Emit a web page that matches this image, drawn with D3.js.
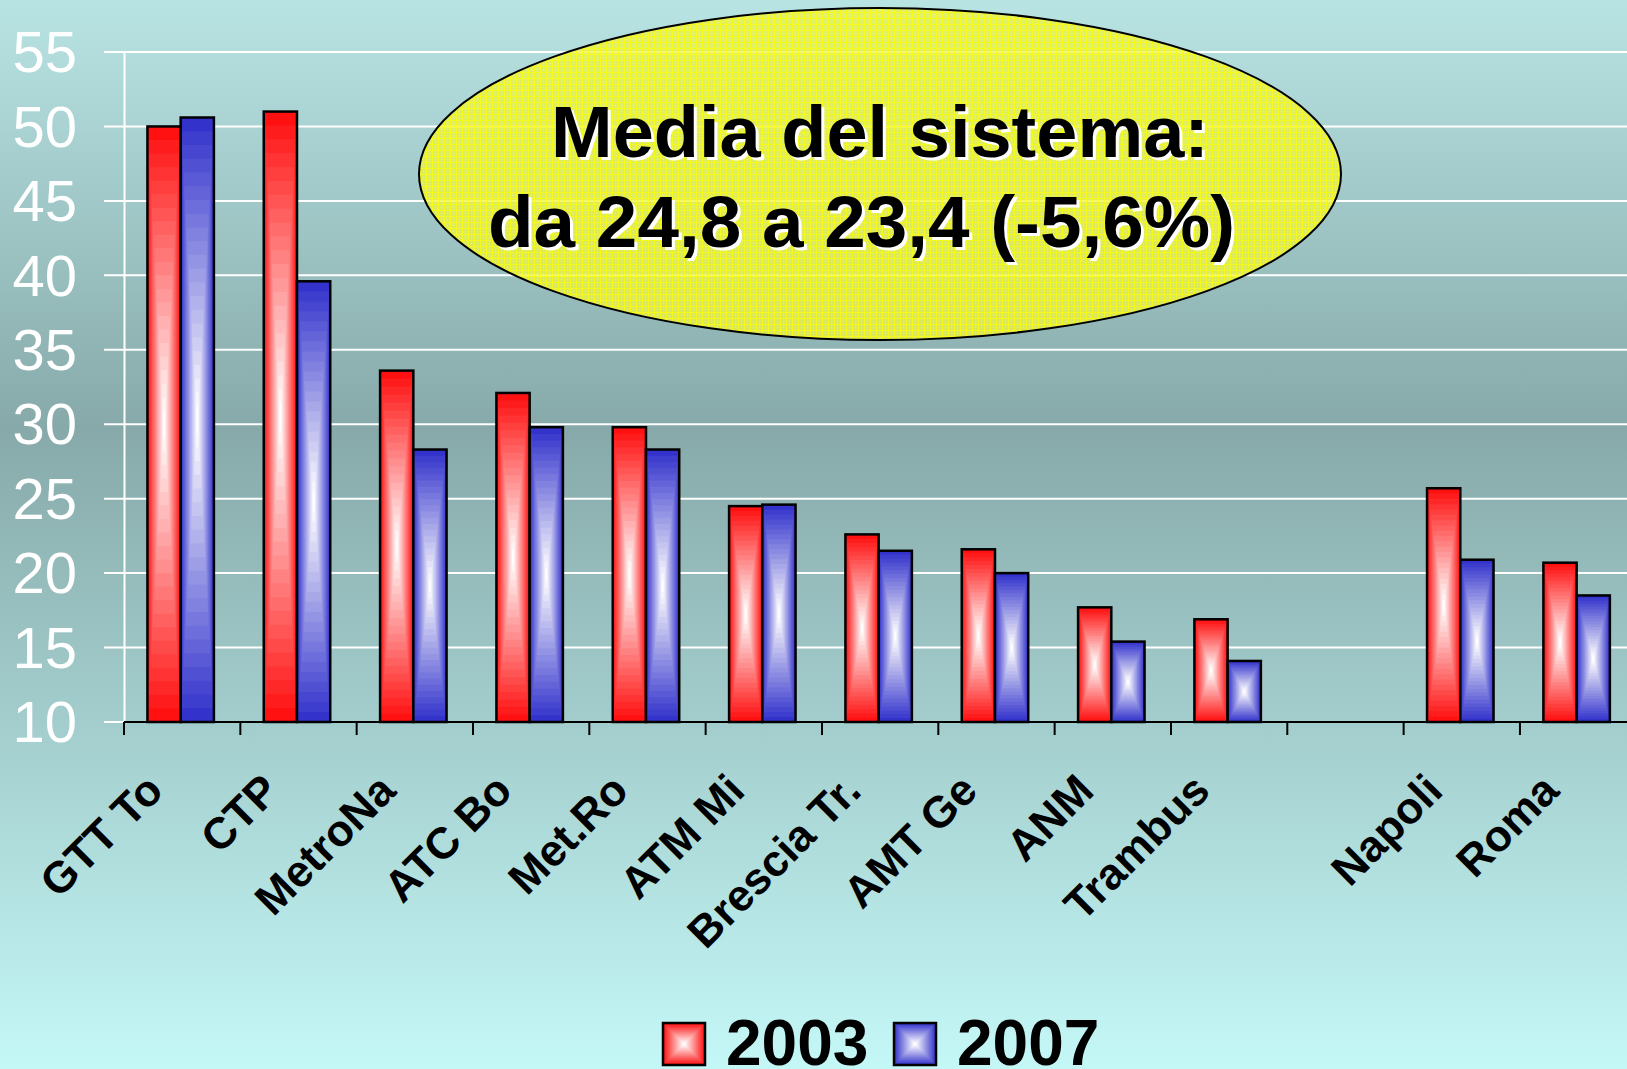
<!DOCTYPE html>
<html>
<head>
<meta charset="utf-8">
<script src="https://cdn.jsdelivr.net/npm/d3@7"></script>
<style>
  html, body { margin: 0; padding: 0; overflow: hidden; }
  svg { display: block; font-family: "Liberation Sans", Arial, sans-serif; }
</style>
</head>
<body>
<div id="chart"></div>
<script>
// values (blank slot between Trambus and Napoli)
const categories = ["GTT To", "CTP", "MetroNa", "ATC Bo", "Met.Ro", "ATM Mi", "Brescia Tr.",
                    "AMT Ge", "ANM", "Trambus", "", "Napoli", "Roma"];
const values2003 = [50.0, 51.0, 33.6, 32.1, 29.8, 24.5, 22.6, 21.6, 17.7, 16.9, null, 25.7, 20.7];
const values2007 = [50.6, 39.6, 28.3, 29.8, 28.3, 24.6, 21.5, 20.0, 15.4, 14.1, null, 20.9, 18.5];
const years = ["2003", "2007"];
const yTicks = [10, 15, 20, 25, 30, 35, 40, 45, 50, 55];
const noteLines = ["Media del sistema:", "da 24,8 a 23,4 (-5,6%)"];

const chartW = 1627, chartH = 1069;
const plotLeft = 124, plotBottom = 722, plotTop = 52;
const catStep = 116.33;
const colors = { "2003": "#ff1111", "2007": "#3333cc" };

const svg = d3.select("#chart").append("svg")
    .attr("width", chartW)
    .attr("height", chartH);

const defs = svg.append("defs");
let bg = defs.append("linearGradient").attr("id", "bg")
    .attr("x1", 0).attr("y1", 0).attr("x2", 0).attr("y2", 1);
bg.append("stop").attr("offset", "0%").attr("stop-color", "#b9e4e4");
bg.append("stop").attr("offset", "40%").attr("stop-color", "#87a9a9");
bg.append("stop").attr("offset", "100%").attr("stop-color", "#c4f8f7");

// fine yellow mesh inside the ellipse
let pat = defs.append("pattern").attr("id", "mesh")
    .attr("patternUnits", "userSpaceOnUse").attr("width", 6).attr("height", 6);
pat.append("rect").attr("width", 6).attr("height", 6).attr("fill", "rgba(238,245,70,0.78)");
pat.append("path").attr("d", "M0,0.5H6M0.5,0V6")
    .attr("stroke", "#ffff00").attr("stroke-width", 1).attr("opacity", 0.7);
pat.append("rect").attr("x", 3).attr("y", 3).attr("width", 1).attr("height", 1)
    .attr("fill", "#ffff40").attr("opacity", 0.5);

svg.append("rect").attr("width", chartW).attr("height", chartH).attr("fill", "url(#bg)");

let x = d3.scaleBand()
    .domain(categories)
    .range([plotLeft, plotLeft + categories.length * catStep])
    .padding(0);

let xInner = d3.scaleBand()
    .domain(years)
    .range([0, x.bandwidth()])
    .paddingInner(0)
    .paddingOuter(0.75)
    .align(0.47);

let y = d3.scaleLinear()
    .domain([10, 55])
    .range([plotBottom, plotTop]);

// gridlines
svg.append("g").selectAll("line")
    .data(yTicks)
    .enter()
    .append("line")
    .attr("x1", 104).attr("x2", chartW)
    .attr("y1", d => y(d)).attr("y2", d => y(d))
    .attr("stroke", "#ffffff").attr("stroke-width", 2);

// y axis
let yAxis = svg.append("g")
    .attr("transform", "translate(" + plotLeft + ",0)")
    .call(d3.axisLeft(y).tickValues(yTicks).tickSize(0).tickPadding(47));
yAxis.select(".domain").attr("stroke", "#ffffff").attr("stroke-width", 2);
yAxis.selectAll("text")
    .attr("fill", "#ffffff")
    .attr("font-size", 58)
    .attr("font-family", "Liberation Sans, Arial, sans-serif")
    .attr("dy", "0.34em");

// rectangular "from centre" gradient: nested rects, colour -> white
const rings = 22;
function gradBox(g, x0, y0, w, h, col) {
  let mix = d3.interpolateRgb(col, "#ffffff");
  for (let k = 0; k < rings; k++) {
    let s = 1 - k / rings;
    g.append("rect")
      .attr("x", x0 + w * (1 - s) / 2)
      .attr("y", y0 + h * (1 - s) / 2)
      .attr("width", w * s)
      .attr("height", h * s)
      .attr("fill", mix(k / (rings - 1)));
  }
  g.append("rect")
    .attr("x", x0).attr("y", y0).attr("width", w).attr("height", h)
    .attr("fill", "none").attr("stroke", "#000000").attr("stroke-width", 2.5);
}

let bars = [];
for (let i = 0; i < categories.length; i++) {
  if (values2003[i] != null) bars.push({ cat: categories[i], year: "2003", v: values2003[i] });
  if (values2007[i] != null) bars.push({ cat: categories[i], year: "2007", v: values2007[i] });
}

let barG = svg.append("g");
bars.forEach(function(d) {
  let bx = x(d.cat) + xInner(d.year);
  let by = y(d.v);
  gradBox(barG.append("g"), bx, by, xInner.bandwidth(), y(10) - by, colors[d.year]);
});

// x axis line and ticks at category boundaries
svg.append("line")
    .attr("x1", plotLeft).attr("x2", chartW)
    .attr("y1", plotBottom).attr("y2", plotBottom)
    .attr("stroke", "#000000").attr("stroke-width", 2);
svg.append("g").selectAll("line")
    .data(categories)
    .enter()
    .append("line")
    .attr("x1", d => x(d)).attr("x2", d => x(d))
    .attr("y1", plotBottom).attr("y2", plotBottom + 13)
    .attr("stroke", "#000000").attr("stroke-width", 2);

// rotated category labels
svg.append("g").selectAll("text")
    .data(categories.filter(c => c !== ""))
    .enter()
    .append("text")
    .attr("transform", d => "translate(" + (x(d) + x.bandwidth() / 2 - 17) + "," + 793 + ") rotate(-45)")
    .attr("text-anchor", "end")
    .attr("font-size", 44)
    .attr("font-weight", "bold")
    .attr("fill", "#000000")
    .text(d => d);

// ellipse note
svg.append("ellipse")
    .attr("cx", 880).attr("cy", 174).attr("rx", 461).attr("ry", 166)
    .attr("fill", "url(#mesh)")
    .attr("stroke", "#000000").attr("stroke-width", 2);

let noteX = [551, 488], noteY = [157, 247], noteLen = [658, 747];
noteLines.forEach(function(t, i) {
  [["#ffffff", 3], ["#000000", 0]].forEach(function(s) {
    svg.append("text")
      .attr("x", noteX[i] + s[1]).attr("y", noteY[i] + s[1])
      .attr("font-size", 72)
      .attr("font-weight", "bold")
      .attr("textLength", noteLen[i])
      .attr("lengthAdjust", "spacingAndGlyphs")
      .attr("fill", s[0])
      .text(t);
  });
});

// legend
let legX = [663, 894];
years.forEach(function(yr, i) {
  gradBox(svg.append("g"), legX[i], 1023, 42, 42, colors[yr]);
  svg.append("text")
    .attr("x", legX[i] + 63).attr("y", 1065)
    .attr("font-size", 64)
    .attr("font-weight", "bold")
    .attr("fill", "#000000")
    .text(yr);
});
</script>
</body>
</html>
